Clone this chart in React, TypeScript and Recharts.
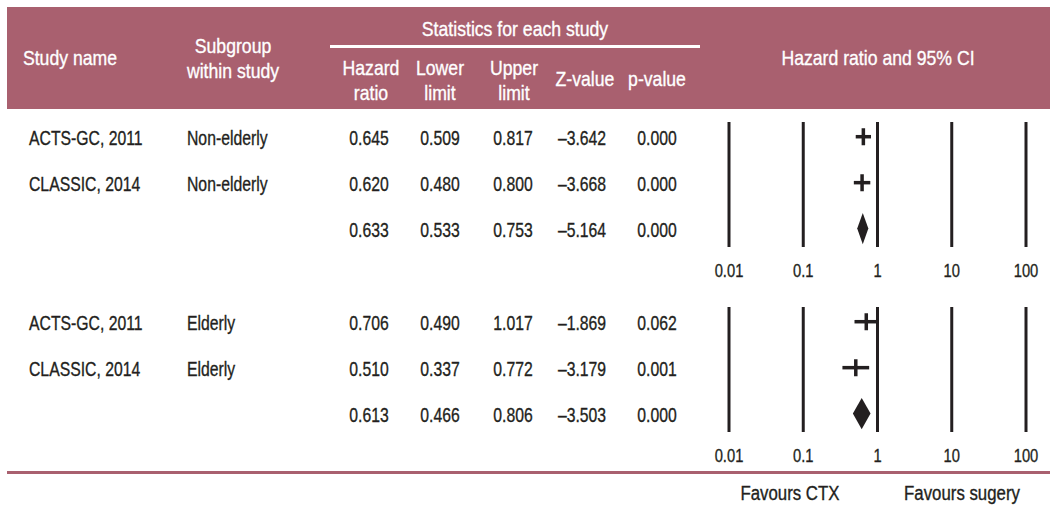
import React from 'react';
import { ScatterChart, Scatter, XAxis, YAxis, ErrorBar, ReferenceArea, CartesianGrid } from 'recharts';

// table data, one entry per row (last row of each block is the pooled estimate)
const studyNames = ['ACTS-GC, 2011', 'CLASSIC, 2014', ''];

const youngSubgroup = ['Non-elderly', 'Non-elderly', ''];
const youngHR = [0.645, 0.62, 0.633];
const youngLower = [0.509, 0.48, 0.533];
const youngUpper = [0.817, 0.8, 0.753];
const youngZ = [-3.642, -3.668, -5.164];
const youngP = [0.0, 0.0, 0.0];

const oldSubgroup = ['Elderly', 'Elderly', ''];
const oldHR = [0.706, 0.51, 0.613];
const oldLower = [0.49, 0.337, 0.466];
const oldUpper = [1.017, 0.772, 0.806];
const oldZ = [-1.869, -3.179, -3.503];
const oldP = [0.062, 0.001, 0.0];

const axisTicks = [0.01, 0.1, 1, 10, 100];

const INK = '#231f20';
const MAUVE = '#a9606f';
// no narrow face installed, so Liberation Sans gets squeezed horizontally
const FONT = '"Liberation Sans", Arial, sans-serif';

const fmt = (v: number) => (v < 0 ? '\u2013' : '') + Math.abs(v).toFixed(3);

const TickMark = (props: any) => {
  const { cx, cy } = props;
  return <line x1={cx} x2={cx} y1={cy - 8.5} y2={cy + 8.5} stroke={INK} strokeWidth={3.5} />;
};

const Diamond = (props: any) => {
  const { x, y, width, height } = props;
  const pts = [
    [x, y + height / 2],
    [x + width / 2, y],
    [x + width, y + height / 2],
    [x + width / 2, y + height],
  ]
    .map((p) => p.join(','))
    .join(' ');
  return <polygon points={pts} fill={INK} />;
};

const AxisTick = (props: any) => {
  const { x, y, payload } = props;
  return (
    <text
      transform={`translate(${x},${y}) scale(0.82,1)`}
      textAnchor="middle"
      dominantBaseline="central"
      fill={INK}
      stroke={INK}
      strokeWidth={0.3}
      fontSize={18}
      fontFamily={FONT}
    >
      {String(payload.value)}
    </text>
  );
};

type PlotProps = { hr: number[]; lower: number[]; upper: number[]; top: number };

const ForestPlot = ({ hr, lower, upper, top }: PlotProps) => {
  const studies = [0, 1].map((i) => ({
    x: hr[i],
    y: i,
    err: [hr[i] - lower[i], upper[i] - hr[i]],
  }));
  return (
    <div style={{ position: 'absolute', left: 700, top }}>
      <ScatterChart width={355} height={161} margin={{ top: 0, right: 29, bottom: 0, left: 29 }}>
        <CartesianGrid horizontal={false} stroke={INK} strokeWidth={3} />
        <XAxis
          type="number"
          dataKey="x"
          scale="log"
          domain={[0.01, 100]}
          ticks={axisTicks}
          allowDataOverflow
          axisLine={false}
          tickLine={false}
          tickSize={0}
          tickMargin={23}
          height={36}
          tick={<AxisTick />}
        />
        <YAxis type="number" dataKey="y" domain={[-0.32, 2.4]} reversed hide />
        <Scatter data={studies} shape={TickMark} isAnimationActive={false}>
          <ErrorBar dataKey="err" direction="x" width={0} stroke={INK} strokeWidth={3.5} isAnimationActive={false} />
        </Scatter>
        <ReferenceArea x1={lower[2]} x2={upper[2]} y1={2 - 0.34} y2={2 + 0.34} shape={Diamond} />
      </ScatterChart>
    </div>
  );
};

const cell = (
  text: string,
  x: number,
  y: number,
  align: 'left' | 'center',
  size = 21,
  color = INK,
  squeeze = 0.75
) => (
  <div
    style={{
      position: 'absolute',
      left: x,
      top: y,
      transform:
        align === 'center'
          ? `translate(-50%, -50%) scaleX(${squeeze})`
          : `translateY(-50%) scaleX(${squeeze})`,
      transformOrigin: align === 'center' ? 'center center' : 'left center',
      fontSize: size,
      lineHeight: 1,
      color,
      WebkitTextStroke: `0.35px ${color}`,
      whiteSpace: 'nowrap',
    }}
  >
    {text}
  </div>
);

const head = (text: string, x: number, y: number) => cell(text, x, y, 'center', 21, '#ffffff', 0.84);

const colX = { name: 29, sub: 187, hr: 369, lower: 440, upper: 513, z: 582, p: 657 };

const Rows = ({ sub, hr, lower, upper, z, p, ys }: any) => (
  <>
    {ys.map((y: number, i: number) => (
      <React.Fragment key={i}>
        {cell(studyNames[i], colX.name, y, 'left')}
        {cell(sub[i], colX.sub, y, 'left')}
        {cell(hr[i].toFixed(3), colX.hr, y, 'center')}
        {cell(lower[i].toFixed(3), colX.lower, y, 'center')}
        {cell(upper[i].toFixed(3), colX.upper, y, 'center')}
        {cell(fmt(z[i]), colX.z, y, 'center')}
        {cell(p[i].toFixed(3), colX.p, y, 'center')}
      </React.Fragment>
    ))}
  </>
);

export default function App() {
  return (
    <div style={{ position: 'relative', width: 1055, height: 523, background: '#fff', fontFamily: FONT, overflow: 'hidden' }}>
      <style>{'body{margin:0}'}</style>
      {/* header band */}
      <div style={{ position: 'absolute', left: 7, top: 7, width: 1043, height: 102, background: MAUVE }} />
      <div style={{ position: 'absolute', left: 330, top: 45, width: 370, height: 3, background: '#ffffff' }} />
      {head('Study name', 70, 57)}
      {head('Subgroup', 233, 45)}
      {head('within study', 233, 70)}
      {head('Statistics for each study', 515, 28)}
      {head('Hazard', 371, 67)}
      {head('ratio', 371, 92)}
      {head('Lower', 440, 67)}
      {head('limit', 440, 92)}
      {head('Upper', 514, 67)}
      {head('limit', 514, 92)}
      {head('Z-value', 585, 78)}
      {head('p-value', 657, 78)}
      {head('Hazard ratio and 95% CI', 878, 57)}

      <Rows sub={youngSubgroup} hr={youngHR} lower={youngLower} upper={youngUpper} z={youngZ} p={youngP} ys={[137, 183, 229]} />
      <Rows sub={oldSubgroup} hr={oldHR} lower={oldLower} upper={oldUpper} z={oldZ} p={oldP} ys={[322, 368, 414]} />

      <ForestPlot hr={youngHR} lower={youngLower} upper={youngUpper} top={122} />
      <ForestPlot hr={oldHR} lower={oldLower} upper={oldUpper} top={307} />

      {/* bottom rule */}
      <div style={{ position: 'absolute', left: 7, top: 471, width: 1043, height: 3, background: MAUVE }} />
      {cell('Favours CTX', 790, 493, 'center', 20, INK, 0.84)}
      {cell('Favours sugery', 962, 493, 'center', 20, INK, 0.84)}
    </div>
  );
}
